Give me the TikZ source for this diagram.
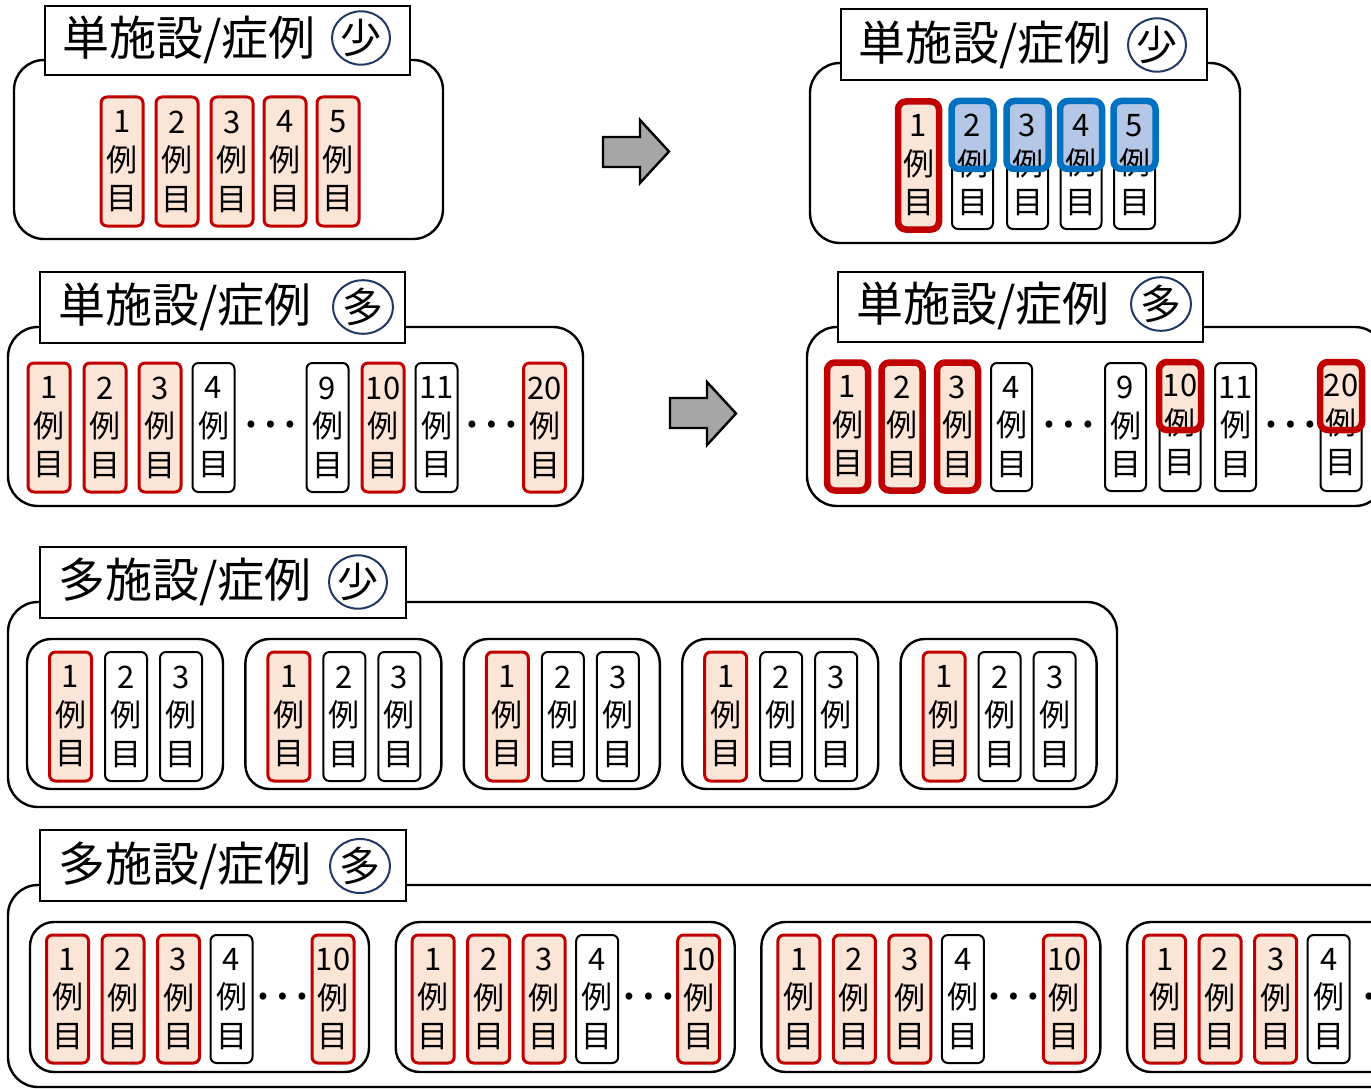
\documentclass[tikz,border=0pt]{standalone}
\usepackage{fontspec}
\setmainfont{Noto Sans CJK JP}
\usetikzlibrary{shapes.geometric}
\definecolor{cred}{HTML}{C00000}
\definecolor{cpeach}{HTML}{FBE5D6}
\definecolor{cblue}{HTML}{0070C0}
\definecolor{cbluefill}{HTML}{B4C7E7}
\definecolor{cnavy}{HTML}{1F3864}
\definecolor{cgray}{HTML}{A6A6A6}
\tikzset{
 panel/.style={draw, line width=2.4pt, rounded corners=30pt, inner sep=0pt},
 titlebox/.style={draw, line width=2.4pt, fill=white, inner sep=0pt},
 titletext/.style={anchor=west, inner sep=0pt, font=\fontsize{47}{50}\selectfont},
 circ/.style={draw=cnavy, line width=2pt, ellipse, inner sep=0pt, font=\fontsize{41}{44}\selectfont},
 grp/.style={draw, line width=2.4pt, rounded corners=24pt, inner sep=0pt},
 ctext/.style={inner sep=0pt, align=center, font=\fontsize{31}{38.5}\selectfont},
 cbase/.style={ctext, rounded corners=6pt, minimum width=42pt, minimum height=129pt},
 cw/.style={cbase, draw, line width=2pt, fill=white},
 cr/.style={cbase, draw=cred, line width=3pt, fill=cpeach},
 crt/.style={cbase, draw=cred, line width=6.5pt, fill=cpeach, rounded corners=8pt, minimum width=41pt, minimum height=128pt},
 ovbase/.style={inner sep=0pt, rounded corners=8pt, minimum width=42pt, minimum height=68pt},
 bfill/.style={ovbase, fill=cbluefill},
 bborder/.style={ovbase, draw=cblue, line width=6.5pt},
 rfill/.style={ovbase, fill=cpeach},
 rborder/.style={ovbase, draw=cred, line width=6.5pt},
 dotsnode/.style={inner sep=0pt, font=\fontsize{52}{52}\selectfont},
 bigarrow/.style={draw, line width=2.4pt, fill=cgray, line join=miter},
}
\begin{document}
\begin{tikzpicture}[x=1pt,y=-1pt]
\clip (0,0) rectangle (1371,1089);
\fill[white] (0,0) rectangle (1371,1089);

% ---------- Panel 1 ----------
\node[panel, minimum width=429pt, minimum height=179pt] (p1) at (228.5,149.5) {};
\node[titlebox, minimum width=365pt, minimum height=69pt] (t1) at (227.5,40.5) {};
\node[titletext] (tt1) at (62,40) {単施設/症例};
\node[circ, minimum width=54pt, minimum height=50pt] (e1) at (361,38) {少};
\foreach \x [count=\i] in {122,177,232,285,338}
  \node[cr] (a\i) at (\x,161.5) {\i\\例\\目};

% ---------- Arrows ----------
\draw[bigarrow] (603,137) -- (640,137) -- (640,120) -- (669,151.5) -- (640,183) -- (640,167) -- (603,167) -- cycle;
\draw[bigarrow] (670,398) -- (707,398) -- (707,382) -- (736,413.5) -- (707,445) -- (707,428) -- (670,428) -- cycle;

% ---------- Panel 2 ----------
\node[panel, minimum width=430pt, minimum height=180pt] (p2) at (1025,153) {};
\node[titlebox, minimum width=366pt, minimum height=71pt] (t2) at (1024,44.5) {};
\node[titletext] (tt2) at (858,45) {単施設/症例};
\node[circ, minimum width=56pt, minimum height=46pt] (e2) at (1157,45) {少};
\node[crt] (b1) at (918.5,165.5) {1\\例\\目};
\foreach \x [count=\i from 2] in {972.5,1027.5,1081,1134.5} {
  \node[cw, minimum width=41pt] (b\i) at (\x,164.5) {};
  \node[bfill] (bo\i) at (\x,135) {};
  \node[ctext] (bt\i) at (\x,165) {\i\\例\\目};
  \node[bborder] (bb\i) at (\x,135) {};
}

% ---------- Panel 3 ----------
\node[panel, minimum width=575pt, minimum height=179pt] (p3) at (295.5,416.5) {};
\node[titlebox, minimum width=365pt, minimum height=71pt] (t3) at (222.5,307.5) {};
\node[titletext] (tt3) at (58,307) {単施設/症例};
\node[circ, minimum width=60pt, minimum height=50pt] (e3) at (363,307) {多};
\foreach \x/\n/\s in {49/1/cr,105/2/cr,160/3/cr,213.5/4/cw,327.5/9/cw,383/10/cr,436.5/11/cw,544.5/20/cr}
  \node[\s] (c\n) at (\x,427.5) {\n\\例\\目};
\node[dotsnode] (d3a) at (270,425) {…};
\node[dotsnode] (d3b) at (491,425) {…};

% ---------- Panel 4 ----------
\node[panel, minimum width=578pt, minimum height=179pt] (p4) at (1096,416.5) {};
\node[titlebox, minimum width=365pt, minimum height=70pt] (t4) at (1020.5,307) {};
\node[titletext] (tt4) at (856,306) {単施設/症例};
\node[circ, minimum width=60pt, minimum height=52pt] (e4) at (1161,304) {多};
\foreach \x/\n in {847.5/1,902/2,957.5/3}
  \node[crt] (f\n) at (\x,426.5) {\n\\例\\目};
\foreach \x/\n in {1011.5/4,1125.5/9,1235.5/11}
  \node[cw, minimum width=41pt, minimum height=128pt] (f\n) at (\x,427) {\n\\例\\目};
\foreach \x/\n in {1180/10,1341/20} {
  \node[cw, minimum width=41pt, minimum height=128pt] (f\n) at (\x,427) {};
  \node[rfill] (fo\n) at (\x,396) {};
  \node[ctext] (ft\n) at (\x,424.5) {\n\\例\\目};
  \node[rborder] (fb\n) at (\x,396) {};
}
\node[dotsnode] (d4a) at (1068,425) {…};
\node[dotsnode] (d4b) at (1290,425) {…};

% ---------- Panel 5 ----------
\node[panel, minimum width=1109pt, minimum height=205pt] (p5) at (562.5,704.5) {};
\node[titlebox, minimum width=366pt, minimum height=71pt] (t5) at (223,582.5) {};
\node[titletext] (tt5) at (58,582) {多施設/症例};
\node[circ, minimum width=57pt, minimum height=50pt] (e5) at (358,582) {少};
\foreach \g in {0,...,4} {
  \pgfmathsetmacro{\gl}{27+218.4*\g}
  \node[grp, minimum width=196pt, minimum height=150pt] (g5-\g) at (\gl+98,714) {};
  \node[cr] (g5-\g-1) at (\gl+43.5,716.5) {1\\例\\目};
  \node[cw] (g5-\g-2) at (\gl+99,716.5) {2\\例\\目};
  \node[cw] (g5-\g-3) at (\gl+154,716.5) {3\\例\\目};
}

% ---------- Panel 6 ----------
\node[panel, minimum width=1392pt, minimum height=202pt] (p6) at (704,986) {};
\node[titlebox, minimum width=366pt, minimum height=71pt] (t6) at (223,865.5) {};
\node[titletext] (tt6) at (58,866) {多施設/症例};
\node[circ, minimum width=60pt, minimum height=54pt] (e6) at (360,866) {多};
\foreach \g in {0,...,3} {
  \pgfmathsetmacro{\gl}{30+365.7*\g}
  \node[grp, minimum width=339pt, minimum height=150pt] (g6-\g) at (\gl+169.5,997) {};
  \foreach \o/\n/\s in {37.5/1/cr,93/2/cr,148.5/3/cr,201.5/4/cw}
    \node[\s, minimum height=128pt] (g6-\g-\n) at (\gl+\o,999) {\n\\例\\目};
}
\foreach \g in {0,...,2} {
  \pgfmathsetmacro{\gl}{30+365.7*\g}
  \node[cr, minimum height=128pt] (g6-\g-10) at (\gl+303,999) {10\\例\\目};
  \node[dotsnode] (g6-\g-d) at (\gl+252,997) {…};
}
\node[dotsnode, anchor=west] (g6-3-d) at (1360,997) {…};
\end{tikzpicture}
\end{document}
